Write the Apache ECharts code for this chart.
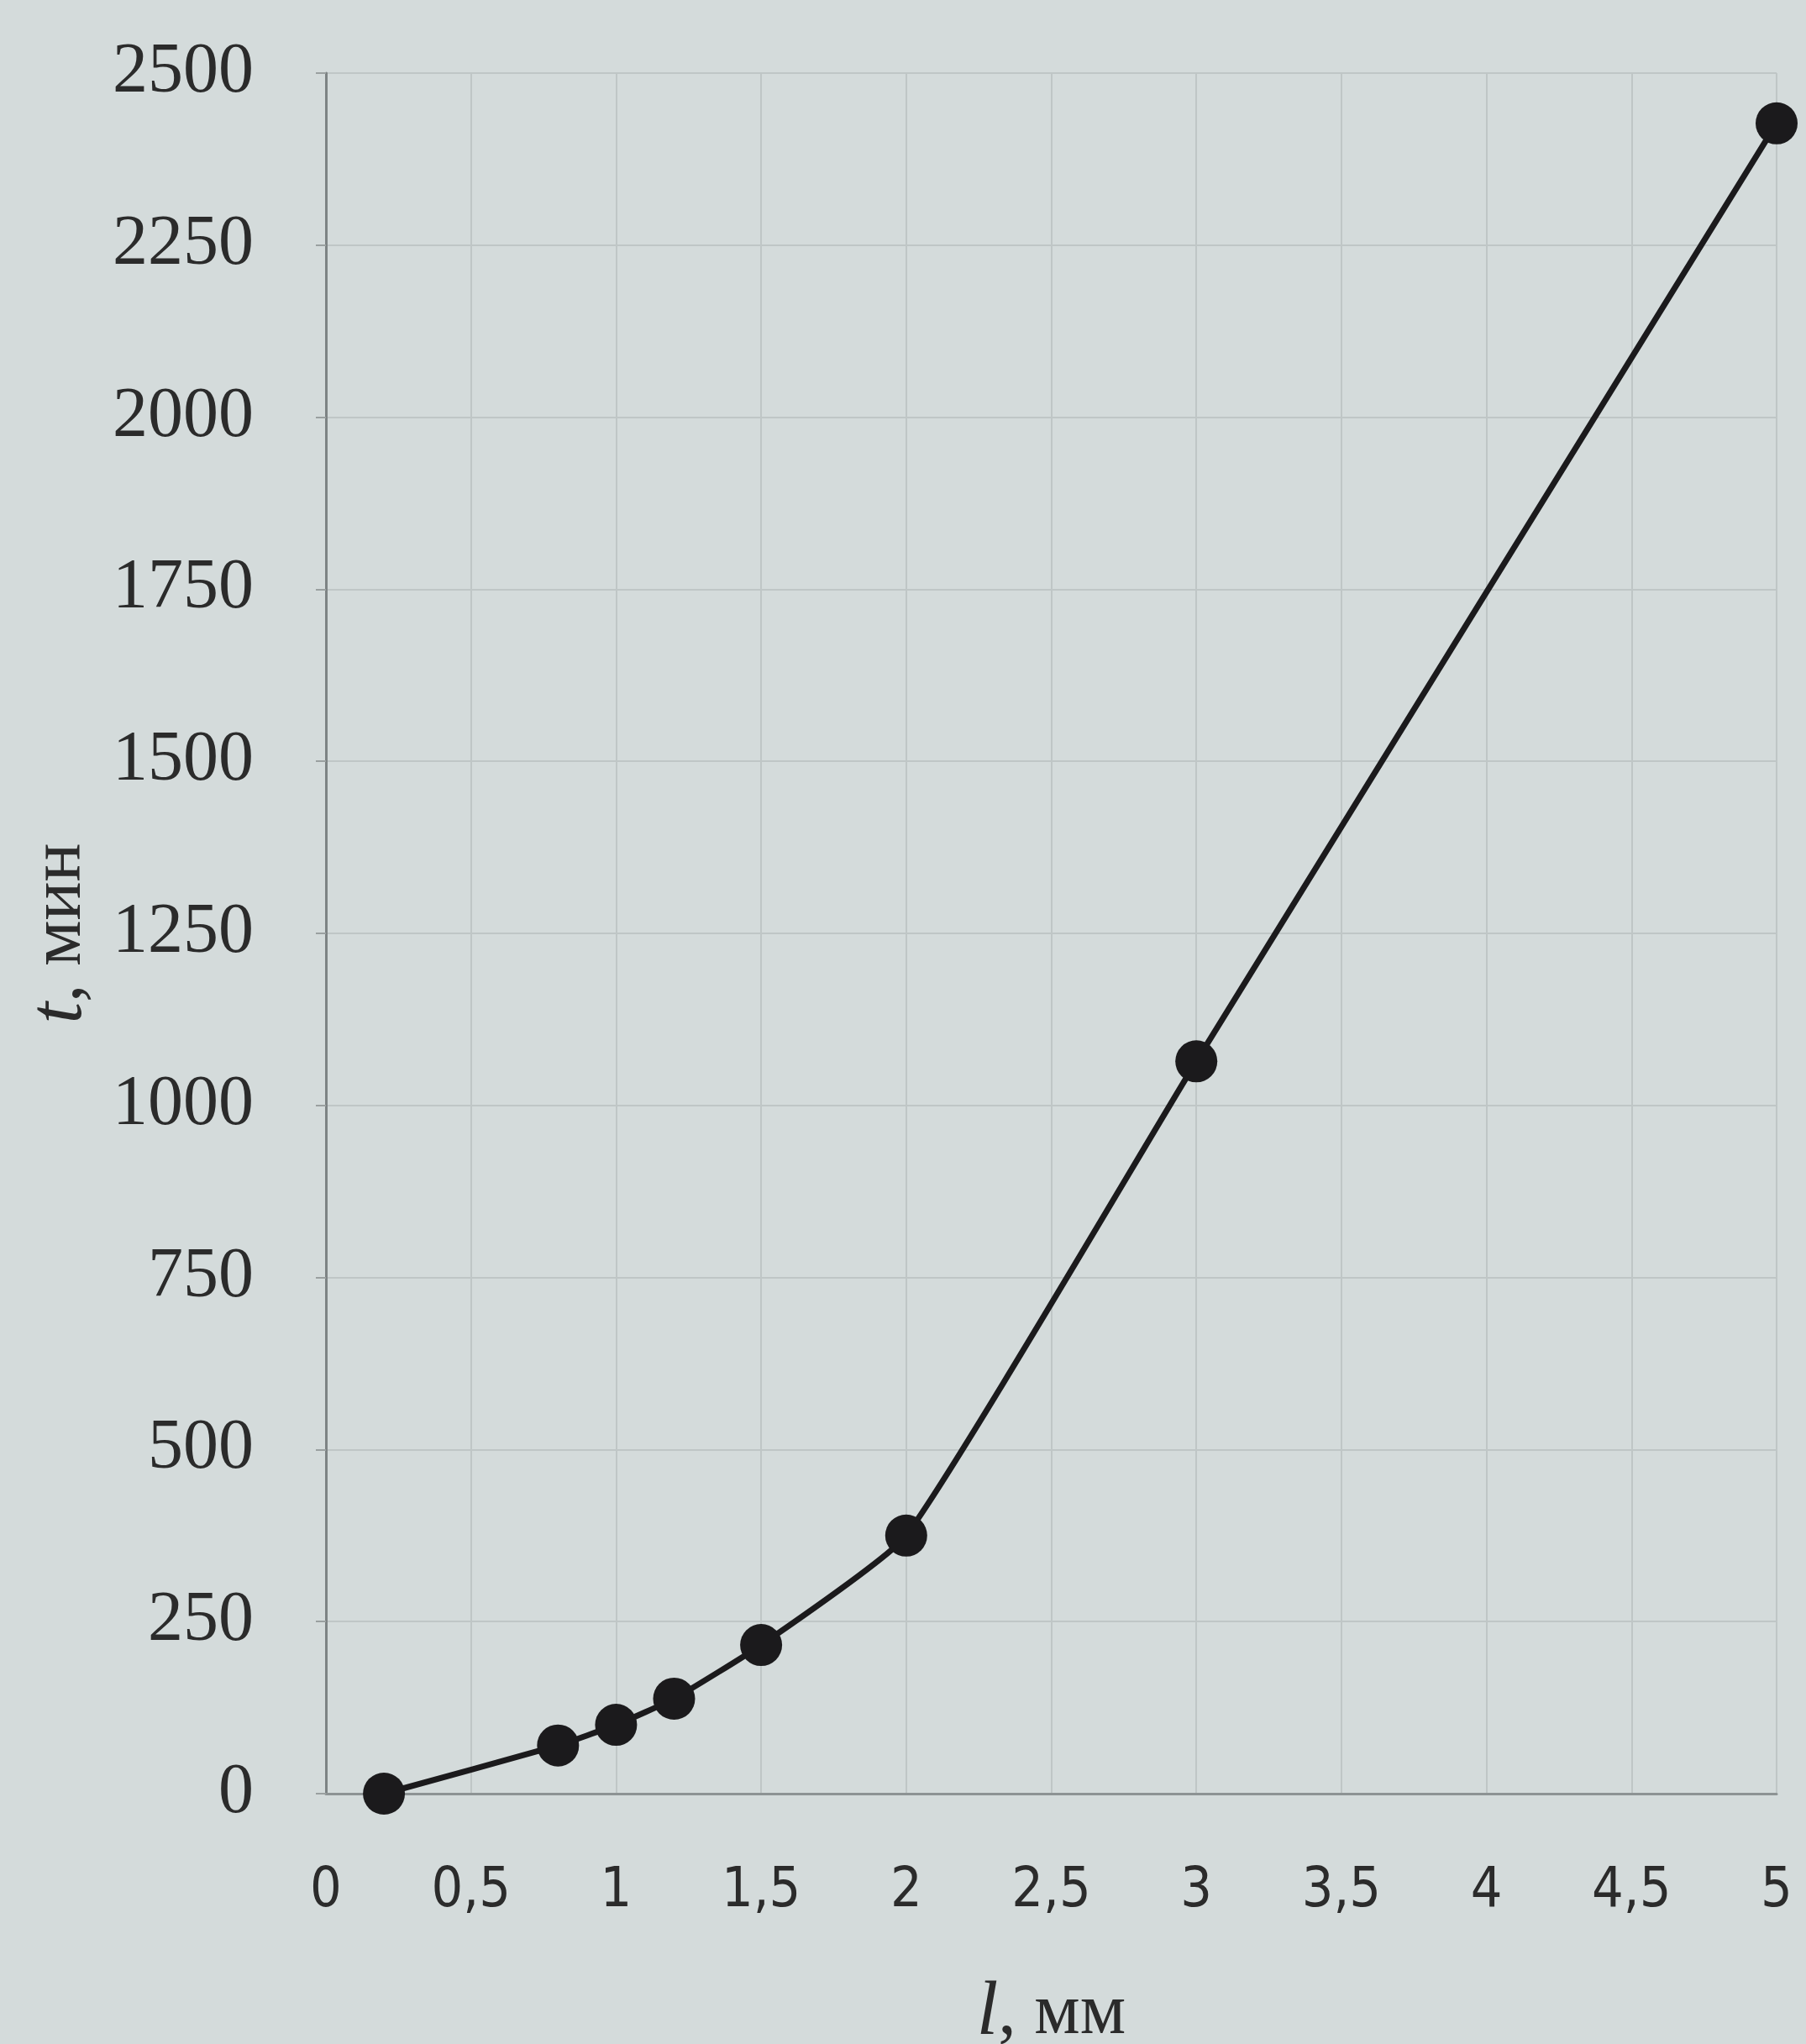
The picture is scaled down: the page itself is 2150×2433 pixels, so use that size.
<!DOCTYPE html>
<html>
<head>
<meta charset="utf-8">
<script src="https://cdn.jsdelivr.net/npm/echarts@6/dist/echarts.min.js"></script>
<style>
html,body{margin:0;padding:0;background:#d4dbdb;overflow:hidden;}
#c{width:2150px;height:2433px;}
</style>
</head>
<body>
<div id="c"></div>
<script>
// Data
var lengthMm = [0.2, 0.8, 1.0, 1.2, 1.5, 2.0, 3.0, 5.0];
var timeMin  = [0, 70, 100, 138, 216, 375, 1064, 2427];
var xName = 'l';
var xUnit = ', мм';
var yName = 't';
var yUnit = ', мин';

var points = lengthMm.map(function (x, i) { return [x, timeMin[i]]; });

var chart = echarts.init(document.getElementById('c'), null, {renderer: 'canvas', width: 2150, height: 2433});
chart.setOption({
  backgroundColor: '#d4dbdb',
  animation: false,
  grid: {left: 388, right: 35, top: 87, bottom: 298, containLabel: false, outerBoundsMode: 'none'},
  xAxis: {
    type: 'value', min: 0, max: 5, interval: 0.5,
    axisLine: {show: true, lineStyle: {color: '#8d9394', width: 3}},
    axisTick: {show: false},
    splitLine: {show: true, lineStyle: {color: '#bfc6c6', width: 2}},
    axisLabel: {
      margin: 84, color: '#2b2b2b', fontFamily: "'Liberation Sans Narrow', 'DejaVu Sans Condensed', Lato", fontSize: 66,
      formatter: function (v) { return String(v).replace('.', ','); }
    },
    name: '{i|' + xName + '}{n|' + xUnit + '}',
    nameLocation: 'middle', nameGap: 216,
    nameTextStyle: {
      rich: {
        i: {fontFamily: 'Liberation Serif', fontStyle: 'italic', fontSize: 92, color: '#2b2b2b'},
        n: {fontFamily: 'Liberation Serif', fontSize: 86, color: '#2b2b2b'}
      }
    }
  },
  yAxis: {
    type: 'value', min: 0, max: 2500, interval: 250,
    axisLine: {show: true, lineStyle: {color: '#7d8384', width: 3}},
    axisTick: {show: true, length: 12, lineStyle: {color: '#9aa0a0', width: 2}},
    splitLine: {show: true, lineStyle: {color: '#bfc6c6', width: 2}},
    axisLabel: {
      margin: 86, color: '#2b2b2b', fontFamily: 'Liberation Serif', fontSize: 84,
      formatter: function (v) { return String(v); }
    },
    name: '{i|' + yName + '}{n|' + yUnit + '}',
    nameLocation: 'middle', nameGap: 270, nameRotate: 90,
    nameTextStyle: {
      rich: {
        i: {fontFamily: 'Liberation Serif', fontStyle: 'italic', fontSize: 92, color: '#2b2b2b'},
        n: {fontFamily: 'Liberation Serif', fontSize: 86, color: '#2b2b2b'}
      }
    }
  },
  series: [{
    type: 'line',
    data: points,
    smooth: 0.15,
    symbol: 'circle',
    symbolSize: 50,
    clip: false,
    lineStyle: {color: '#1b1a1c', width: 7},
    itemStyle: {color: '#1b1a1c'}
  }]
});
</script>
</body>
</html>
